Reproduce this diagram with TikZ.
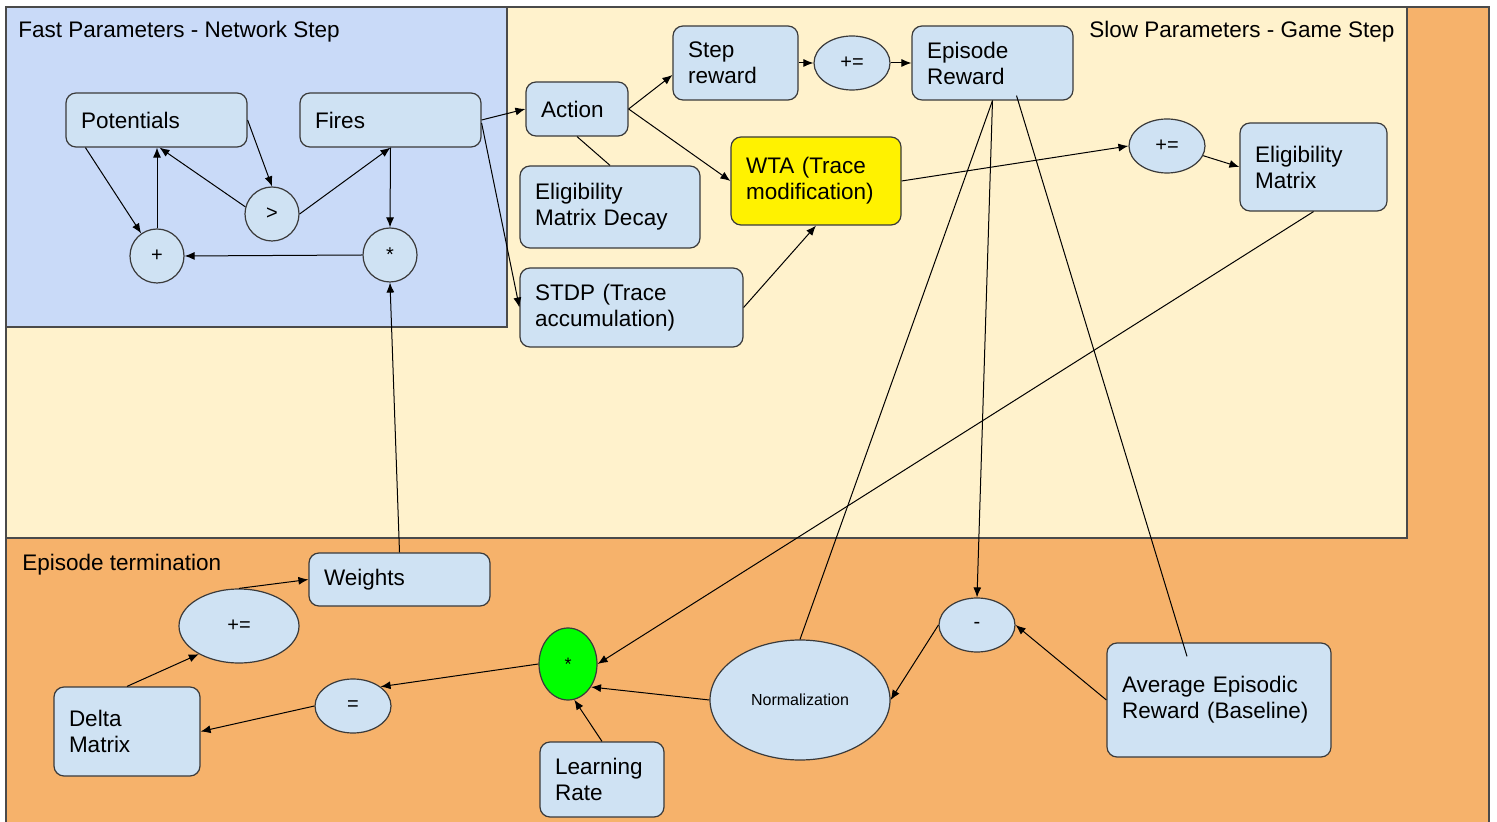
\documentclass[tikz,border=0pt]{standalone}
\usepackage{fontspec}
\setmainfont{Liberation Sans}
\usetikzlibrary{shapes.geometric,arrows.meta}

\definecolor{fastbg}{HTML}{C9DAF8}
\definecolor{slowbg}{HTML}{FFF2CC}
\definecolor{endbg}{HTML}{F6B26B}
\definecolor{nodebl}{HTML}{CFE2F3}
\definecolor{linegr}{HTML}{3A3A3A}
\definecolor{regline}{HTML}{4A4A4A}

\tikzset{
  blk/.style={draw=linegr, fill=nodebl, rounded corners=5pt, line width=0.6pt,
    inner xsep=7.5pt, inner ysep=0pt, align=left,
    font=\fontsize{11.25}{13}\selectfont},
  op/.style={draw=linegr, fill=nodebl, ellipse, line width=0.6pt, inner sep=0pt,
    font=\fontsize{10}{12}\selectfont},
  ttl/.style={anchor=west, inner sep=0pt, font=\fontsize{11.25}{13}\selectfont},
  arr/.style={-{Latex[length=5pt,width=4pt]}, line width=0.5pt, draw=black},
  lnk/.style={line width=0.5pt, draw=black}
}

\begin{document}
\begin{tikzpicture}[x=0.5pt,y=-0.5pt]

	\useasboundingbox (0,0) rectangle (1497,822);

	% regions
	\fill[endbg] (6,7) rectangle (1489,822);
	\draw[regline, line width=0.6pt] (6,822) -- (6,7) -- (1489,7) -- (1489,822);
	\filldraw[fill=slowbg, draw=regline, line width=0.6pt] (6,7) rectangle (1407,538);
	\filldraw[fill=fastbg, draw=regline, line width=0.6pt] (6,7) rectangle (507,327);

	% titles
	\node[ttl] (fasttitle) at (18,32) {Fast Parameters - Network Step};
	\node[ttl] (slowtitle) at (1089,32) {Slow Parameters - Game Step};
	\node[ttl] (endtitle) at (22,565) {Episode termination};

	% network step
	\node[blk, text width=75.5pt, minimum height=27pt] (pot) at (156.5,120) {Potentials};
	\node[blk, text width=75.5pt, minimum height=27pt] (fires) at (390.5,120) {Fires};
	\node[op, circle, minimum size=27pt] (gt) at (272,214) {>};
	\node[op, circle, minimum size=27pt] (plus) at (157,256) {+};
	\node[op, circle, minimum size=27pt] (mul) at (390,255) {*};

	% game step
	\node[blk, text width=36pt, minimum height=27pt] (action) at (577,109) {Action};
	\node[blk, text width=47.5pt, minimum height=37pt] (steprew) at (735.5,63) {Step\\reward};
	\node[op, minimum width=38pt, minimum height=27pt] (sacc) at (852,63) {+=};
	\node[blk, text width=65.5pt, minimum height=37pt] (eprew) at (992.5,63) {Episode\\Reward};
	\node[blk, text width=75pt, minimum height=41pt] (emdecay) at (610,207) {Eligibility\\Matrix Decay};
	\node[blk, fill=yellow, text width=70pt, minimum height=44pt] (wta) at (816,181) {WTA (Trace\\modification)};
	\node[blk, text width=96.5pt, minimum height=39.5pt] (stdp) at (631.5,307.5) {STDP (Trace\\accumulation)};
	\node[op, minimum width=38pt, minimum height=27pt] (eacc) at (1167,146) {+=};
	\node[blk, text width=58.5pt, minimum height=44pt] (elig) at (1313.5,167) {Eligibility\\Matrix};

	% episode termination
	\node[blk, text width=75.5pt, minimum height=26.5pt] (weights) at (399.5,579.5) {Weights};
	\node[op, minimum width=60pt, minimum height=37pt] (wacc) at (239,626) {+=};
	\node[blk, text width=58pt, minimum height=44.5pt] (delta) at (127,731.5) {Delta\\Matrix};
	\node[op, minimum width=38pt, minimum height=27pt] (eq) at (353,706) {=};
	\node[op, fill=green, minimum width=29pt, minimum height=36pt, font=\fontsize{9}{10}\selectfont] (prod) at (568,664) {*};
	\node[blk, text width=47pt, minimum height=37.5pt] (lrate) at (602,779.5) {Learning\\Rate};
	\node[op, minimum width=90pt, minimum height=60pt, font=\fontsize{8}{10}\selectfont] (norm) at (800,700) {Normalization};
	\node[op, minimum width=38pt, minimum height=27pt] (minus) at (977,625) {-};
	\node[blk, text width=97pt, minimum height=57pt] (avg) at (1219,700) {Average Episodic\\Reward (Baseline)};

	% network step links
	\draw[arr] ([xshift=10pt]pot.south west) -- (plus.125);
	\draw[arr] (plus.north) -- (plus |- pot.south);
	\draw[arr] (gt.165) -- ([xshift=1.5pt]pot.south);
	\draw[arr] (pot.east) -- (gt.north);
	\draw[arr] (gt.east) -- (fires.south);
	\draw[arr] (fires.south) -- (mul.north);
	\draw[arr] (mul.west) -- (plus.east);
	\draw[arr] (weights.north) -- (mul.south);

	% game step links
	\draw[arr] (fires.east) -- (action.west);
	\draw[arr] ([yshift=-1.5pt]fires.east) -- (stdp.west);
	\draw[arr] (action.east) -- ([yshift=-6pt]steprew.west);
	\draw[arr] (action.east) -- (wta.west);
	\draw[lnk] (action.south) -- (emdecay.north);
	\draw[arr] (steprew.east) -- (sacc.west);
	\draw[arr] (sacc.east) -- (eprew.west);
	\draw[arr] (stdp.east) -- (wta.south);
	\draw[arr] (wta.east) -- (eacc.west);
	\draw[arr] (eacc.-15) -- (elig.west);
	\draw[arr] (elig.south) -- (prod.east);
	\draw[lnk] (eprew.south) -- (norm.north);
	\draw[arr] (eprew.south) -- (minus.north);
	\draw[lnk] ([xshift=12pt,yshift=2.5pt]eprew.south) -- ([xshift=-16pt,yshift=-7pt]avg.north);

	% episode termination links
	\draw[arr] (avg.west) -- (minus.east);
	\draw[arr] (minus.west) -- (norm.east);
	\draw[arr] (norm.west) -- (prod.-45);
	\draw[arr] (lrate.north) -- (prod.-80);
	\draw[arr] (prod.west) -- (eq.35);
	\draw[arr] (eq.west) -- (delta.east);
	\draw[arr] (delta.north) -- (wacc.-145);
	\draw[arr] (wacc.north) -- (weights.west);

\end{tikzpicture}
\end{document}
